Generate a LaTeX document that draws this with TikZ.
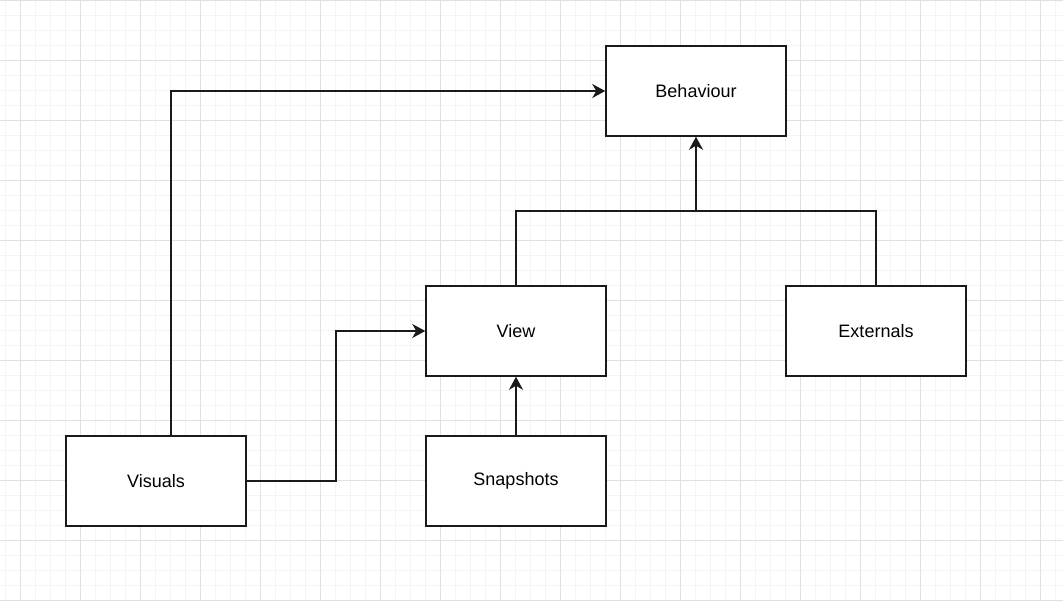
\documentclass[tikz,border=0pt]{standalone}
\usepackage{fontspec}
\setmainfont{Liberation Sans}
\usetikzlibrary{arrows.meta}
\definecolor{gridminor}{HTML}{F4F4F4}
\definecolor{gridmajor}{HTML}{E0E0E0}
\definecolor{boxline}{HTML}{1A1A1A}
\begin{document}
\begin{tikzpicture}[x=1pt,y=-1pt,
  box/.style={draw=boxline, line width=1.5pt, fill=white, minimum width=180pt, minimum height=90pt, inner sep=0pt, font=\fontsize{18}{22}\selectfont},
  wire/.style={draw=boxline, line width=1.5pt},
  conn/.style={wire, -{Stealth[length=13pt,width=14pt,inset=4pt]}},
  minorline/.style={draw=gridminor, line width=0.8pt},
  majorline/.style={draw=gridmajor, line width=0.8pt}]
\useasboundingbox (0,0) rectangle (1063,600);
\fill[white] (0,0) rectangle (1063,600);
\foreach \x in {5,20,...,1063} \draw[minorline] (\x,0) -- (\x,600);
\foreach \y in {0,15,...,600} \draw[minorline] (0,\y) -- (1063,\y);
\foreach \x in {20,80,...,1063} \draw[majorline] (\x,0) -- (\x,600);
\foreach \y in {0,60,...,600} \draw[majorline] (0,\y) -- (1063,\y);

\node[box] (beh) at (696,91) {Behaviour};
\node[box] (view) at (516,331) {View};
\node[box] (ext) at (876,331) {Externals};
\node[box] (vis) at (156,481) {Visuals};
\node[box] (snap) at (516,481) {Snapshots};

\coordinate (j) at (696,211);
\coordinate (vbend) at (336,481);

\draw[conn] ([xshift=15pt]vis.north) |- (beh.west);
\draw[conn] (vis.east) -- (vbend) |- (view.west);
\draw[conn] (view.north) |- (j) -- (beh.south);
\draw[wire] (ext.north) |- (j);
\draw[conn] (snap.north) -- (view.south);
\end{tikzpicture}
\end{document}
